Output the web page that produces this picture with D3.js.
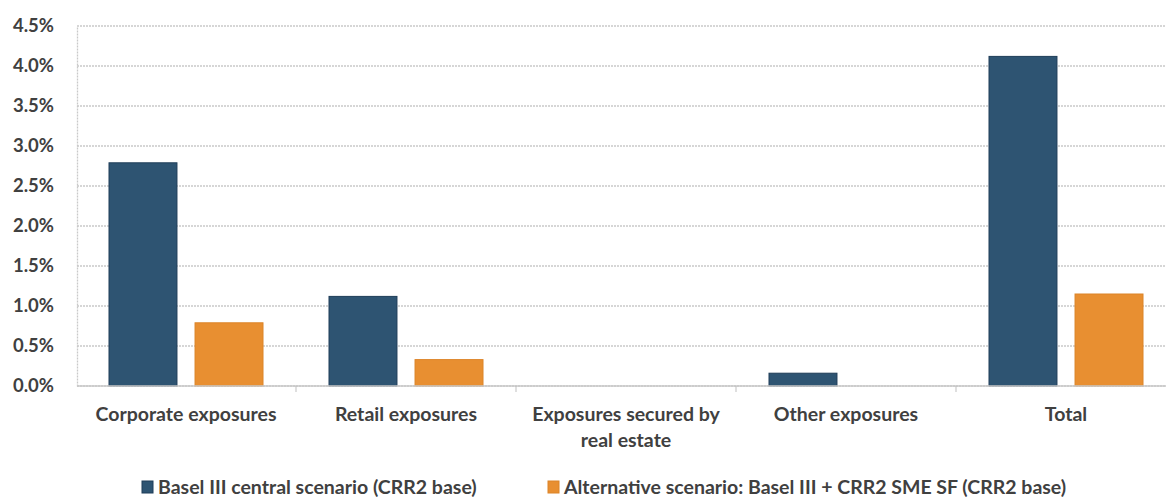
<!DOCTYPE html>
<html><head><meta charset="utf-8">
<script src="https://cdn.jsdelivr.net/npm/d3@7"></script>
<style>body{margin:0;background:#fff}svg{display:block}text{font-family:Lato,"Open Sans",sans-serif;font-weight:700;fill:#404040}</style>
</head><body><div id="c"></div>
<script>
const categories = ["Corporate exposures","Retail exposures","Exposures secured by real estate","Other exposures","Total"];
const categoryLines = [["Corporate exposures"],["Retail exposures"],["Exposures secured by","real estate"],["Other exposures"],["Total"]];
const seriesNames = ["Basel III central scenario (CRR2 base)","Alternative scenario: Basel III + CRR2 SME SF (CRR2 base)"];
const basel = [0.0279, 0.0112, 0, 0.0016, 0.0412];
const alternative = [0.0079, 0.0033, 0, 0, 0.0115];
const yTicks = [0,0.005,0.01,0.015,0.02,0.025,0.03,0.035,0.04,0.045];
const colors = ["#2E5472","#E88F31"];
const strokes = ["#1E3D58","#DC8428"];

const W=1166,H=499, m={l:77,t:26,b:113};
const svg=d3.select("#c").append("svg").attr("width",W).attr("height",H);
// plot area extends slightly beyond the right edge (cropped, as in the reference)
const x=d3.scaleBand().domain(categories).range([76,1176]);
const y=d3.scaleLinear().domain([0,0.045]).range([H-m.b,m.t]);
const series=[basel,alternative];
const outer=33;
const x1=d3.scaleBand().domain([0,1]).range([outer,x.bandwidth()-outer]).paddingInner(0.21);

// gridlines
svg.append("g").selectAll("line").data(yTicks).join("line")
 .attr("x1",m.l).attr("x2",W).attr("y1",d=>y(d)).attr("y2",d=>y(d))
 .attr("stroke","#c9c9c9").attr("stroke-width",1.3).attr("stroke-dasharray","2,1");
// y axis
const ya=svg.append("g").attr("transform",`translate(${m.l},0)`).call(d3.axisLeft(y).tickValues(yTicks).tickFormat(d3.format(".1%")).tickSize(0).tickPadding(23));
ya.select(".domain").attr("stroke","#c9c9c9").attr("stroke-width",1.3).attr("stroke-dasharray","2,1");
ya.selectAll("text").style("font-size","18.5px").attr("fill","#404040");

// bars
series.forEach((s,si)=>{
 svg.append("g").selectAll("rect").data(categories.map((c,i)=>({c,v:s[i]})).filter(d=>d.v>0)).join("rect")
  .attr("x",d=>x(d.c)+x1(si)).attr("width",x1.bandwidth())
  .attr("y",d=>y(d.v)).attr("height",d=>y(0)-y(d.v))
  .attr("fill",colors[si]).attr("stroke",strokes[si]).attr("stroke-width",1);
});

// x axis
const xa=svg.append("g").attr("transform",`translate(0,${y(0)})`);
xa.append("line").attr("x1",m.l).attr("x2",W).attr("stroke","#c9c9c9").attr("stroke-width",1.3);
const tickPos=categories.slice(1).map(c=>x(c));
xa.selectAll(".tk").data(tickPos).join("line").attr("x1",d=>d).attr("x2",d=>d).attr("y1",0).attr("y2",6).attr("stroke","#bfbfbf");
const xl=svg.append("g").selectAll("text").data(categories).join("text")
 .attr("x",d=>x(d)+x.bandwidth()/2).attr("y",421).attr("text-anchor","middle").style("font-size","19.5px");
xl.each(function(d,i){
 const t=d3.select(this);
 categoryLines[i].forEach((ln,j)=>t.append("tspan").attr("x",x(d)+x.bandwidth()/2).attr("dy",j?26:0).text(ln));
});

// legend
const legX=[142,548];
const lg=svg.append("g");
seriesNames.forEach((n,i)=>{
 lg.append("rect").attr("x",legX[i]).attr("y",481).attr("width",11).attr("height",12).attr("fill",colors[i]).attr("stroke",strokes[i]);
 lg.append("text").attr("x",legX[i]+16).attr("y",493.5).style("font-size","19.5px").text(n);
});
</script></body></html>
